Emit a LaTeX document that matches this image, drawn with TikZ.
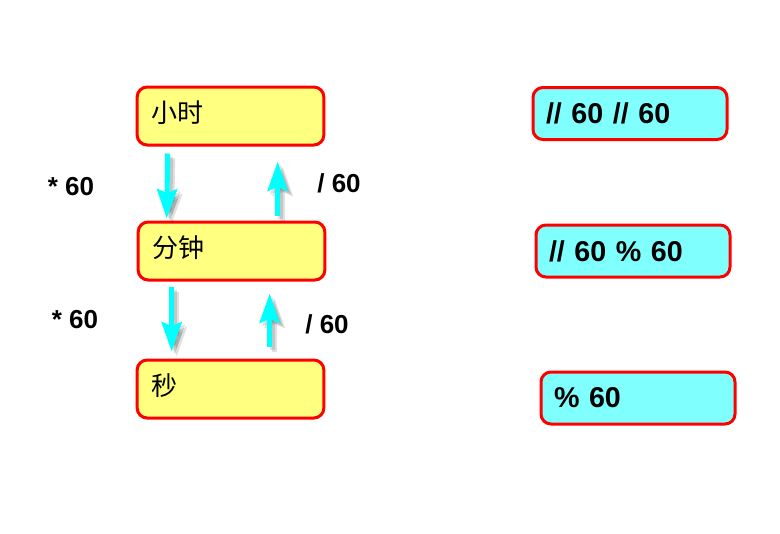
\documentclass[tikz,border=0pt]{standalone}
\usepackage{fontspec}
\setmainfont{Liberation Sans}
\newfontfamily\cjk{Noto Sans CJK SC}
\usetikzlibrary{arrows.meta,calc,positioning}
\definecolor{BoxYellow}{HTML}{FFFF80}
\definecolor{BoxCyan}{HTML}{80FFFF}
\definecolor{BoxRed}{HTML}{FF0000}
\definecolor{ArrowCyan}{HTML}{00FFFF}
\tikzset{
  every node/.style={text=black},
  unitbox/.style={draw=BoxRed, line width=2.25pt, fill=BoxYellow, rounded corners=7.5pt,
    minimum width=140pt, minimum height=43.5pt, text width=118pt, align=left,
    text height=17pt, text depth=8pt,
    inner xsep=11pt, font=\cjk\fontsize{19.5pt}{22pt}\selectfont},
  opbox/.style={draw=BoxRed, line width=2.25pt, fill=BoxCyan, rounded corners=7.5pt,
    minimum width=145.5pt, minimum height=39pt, text width=126pt, align=left,
    inner xsep=9.5pt, font=\bfseries\fontsize{21.5pt}{24pt}\selectfont},
  factor/.style={font=\bfseries\fontsize{19.5pt}{22pt}\selectfont},
  convert/.style={-{Stealth[length=22pt,width=15pt,inset=3pt]}, draw=ArrowCyan, line width=3.75pt},
  convshadow/.style={-{Stealth[length=22pt,width=15pt,inset=3pt]}, draw=black, opacity=0.12, line width=3.75pt},
}
\begin{document}
\begin{tikzpicture}[x=0.75pt,y=-0.75pt]
  \useasboundingbox (0,0) rectangle (780,533);
  % unit boxes
  \node[unitbox] (hour) at (230.5,116) {小时};
  \node[unitbox] (minute) at (231.5,251) {分钟};
  \node[unitbox] (second) at (230.5,389) {秒};
  % operator boxes
  \node[opbox] (hourop) at (630,113.5) {// 60 // 60};
  \node[opbox] (minop) at (633,251) {// 60 \% 60};
  \node[opbox] (secop) at (638,398) {\% 60};
  % conversion arrows
  \coordinate (hdown) at ($(hour.south west)+(32,7)$);
  \coordinate (mdownend) at ($(minute.north west)+(30,-2)$);
  \coordinate (mup) at ($(minute.north west)+(141,-5)$);
  \coordinate (hupend) at ($(hour.south west)+(142,15)$);
  \coordinate (mdown) at ($(minute.south west)+(35,5)$);
  \coordinate (sdownend) at ($(second.north west)+(36,-7)$);
  \coordinate (sup) at ($(second.north west)+(134,-12)$);
  \coordinate (mupend) at ($(minute.south west)+(133,12)$);
  \foreach \a/\b in {hdown/mdownend,mup/hupend,mdown/sdownend,sup/mupend}{
    \draw[convshadow] ($(\a)+(3,3)$) -- ($(\b)+(3,3)$);
    \draw[convshadow] ($(\a)+(5,5)$) -- ($(\b)+(5,5)$);
    \draw[convert] (\a) -- (\b);
  }
  % factors
  \node[factor] (mul1) at (71,187) {* 60};
  \node[factor] (div1) at (339,183) {/ 60};
  \node[factor] (mul2) at (75,320) {* 60};
  \node[factor] (div2) at (327,324) {/ 60};
\end{tikzpicture}
\end{document}
